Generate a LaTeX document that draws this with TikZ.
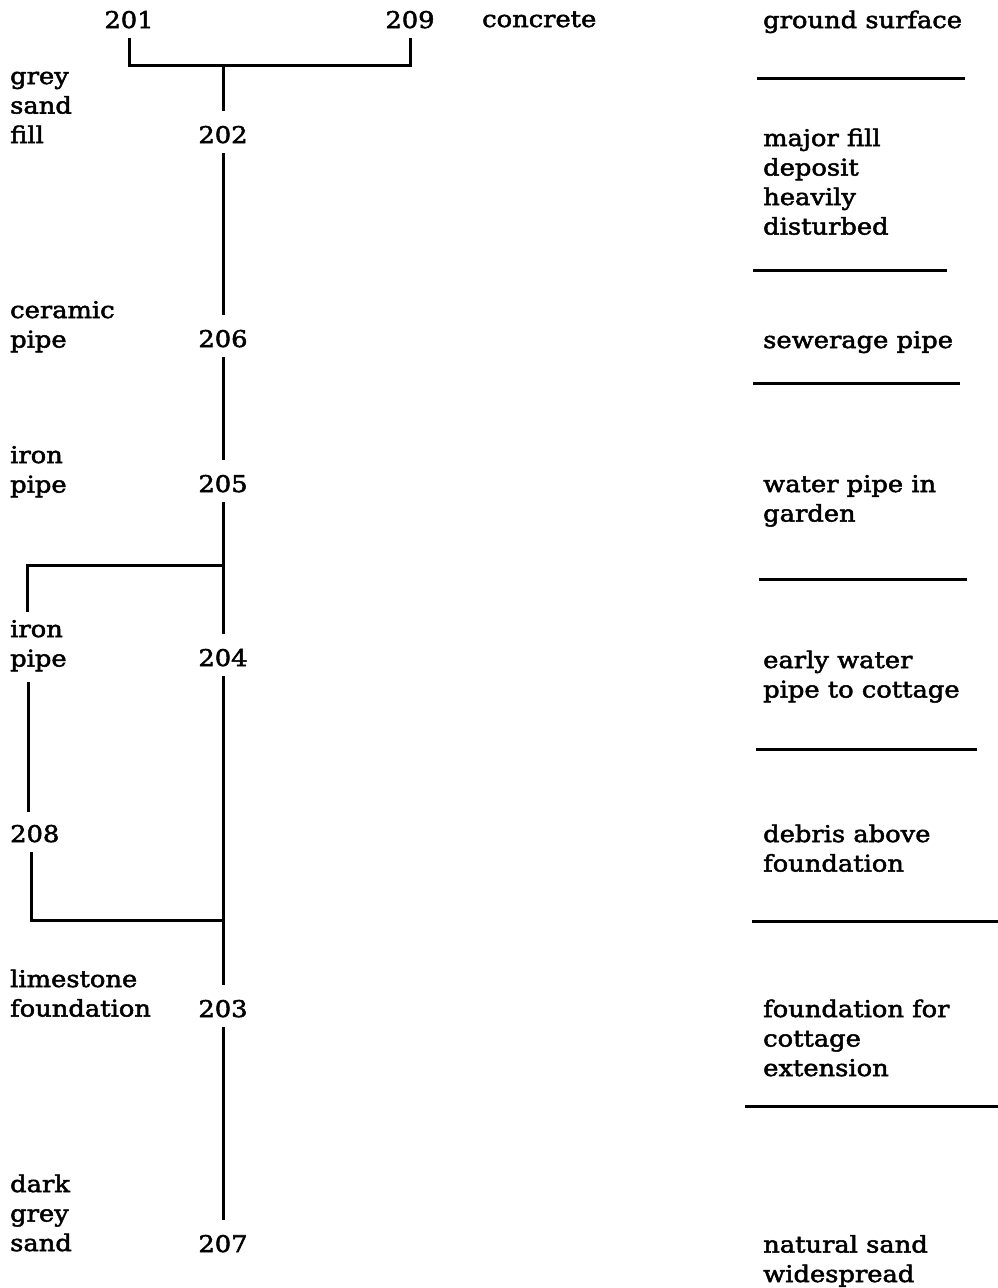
\documentclass[tikz,border=0pt]{standalone}
\usepackage{fontspec}
\setmainfont{DejaVu Serif}[FakeStretch=1.12,FakeBold=2.2]
\begin{document}
\begin{tikzpicture}[x=1pt,y=-1pt,
  every node/.style={inner sep=0pt, font=\fontsize{23pt}{29.5pt}\selectfont},
  lbl/.style={anchor=base west, align=left},
  num/.style={anchor=base, text height=32pt, text depth=10pt},
  conn/.style={line width=3pt},
  rule/.style={line width=3pt}]
\useasboundingbox (0,0) rectangle (998,1288);

% numbers on the main column
\node[num] (n201) at (129,28) {201};
\node[num] (n209) at (410,28) {209};
\node[num] (n202) at (223,143) {202};
\node[num] (n206) at (223,347) {206};
\node[num] (n205) at (223,492) {205};
\node[num] (n204) at (223,666) {204};
\node[num] (n203) at (223,1017) {203};
\node[num] (n207) at (223,1252) {207};

% left descriptions (anchored at the baseline of the last line)
\node[lbl] (L1) at (10,143) {grey\\sand\\fill};
\node[lbl] (L2) at (10,347.5) {ceramic\\pipe};
\node[lbl] (L3) at (10,492.5) {iron\\pipe};
\node[lbl] (L4) at (10,666.5) {iron\\pipe};
\node[lbl] (n208) at (10,842) {208};
\node[lbl] (L6) at (10,1016.5) {limestone\\foundation};
\node[lbl] (L7) at (10,1251) {dark\\grey\\sand};
\node[lbl] (conc) at (482,27) {concrete};

% right interpretations
\node[lbl] (R1) at (763,28) {ground surface};
\node[lbl] (R2) at (763,234.5) {major fill\\deposit\\heavily\\disturbed};
\node[lbl] (R3) at (763,348) {sewerage pipe};
\node[lbl] (R4) at (763,521.5) {water pipe in\\garden};
\node[lbl] (R5) at (763,697.5) {early water\\pipe to cottage};
\node[lbl] (R6) at (763,871.5) {debris above\\foundation};
\node[lbl] (R7) at (763,1076) {foundation for\\cottage\\extension};
\node[lbl] (R8) at (763,1282) {natural sand\\widespread};

% junctions
\coordinate (tj) at (223,65);
\coordinate (j1) at (223,565);
\coordinate (j2) at (223,920);
\coordinate (lb1) at (27,612);
\coordinate (lb2) at (28,682);
\coordinate (lb3) at (28,812);
\coordinate (lb4) at (31,852);

% connectors
\draw[conn] (n201.south) |- (tj) -| (n209.south);
\draw[conn] (tj) -- (n202.north);
\draw[conn] (n202.south) -- (n206.north);
\draw[conn] (n206.south) -- (n205.north);
\draw[conn] (n205.south) -- (n204.north);
\draw[conn] (n204.south) -- (n203.north);
\draw[conn] (n203.south) -- (n207.north);
\draw[conn] (j1) -| (lb1);
\draw[conn] (lb2) -- (lb3);
\draw[conn] (lb4) |- (j2);

% layer boundary rules
\draw[rule] (757,78) -- (965,78);
\draw[rule] (753,270) -- (947,270);
\draw[rule] (753,383) -- (960,383);
\draw[rule] (759,579) -- (967,579);
\draw[rule] (756,749) -- (977,749);
\draw[rule] (752,921) -- (998,921);
\draw[rule] (745,1106) -- (998,1106);
\end{tikzpicture}
\end{document}
